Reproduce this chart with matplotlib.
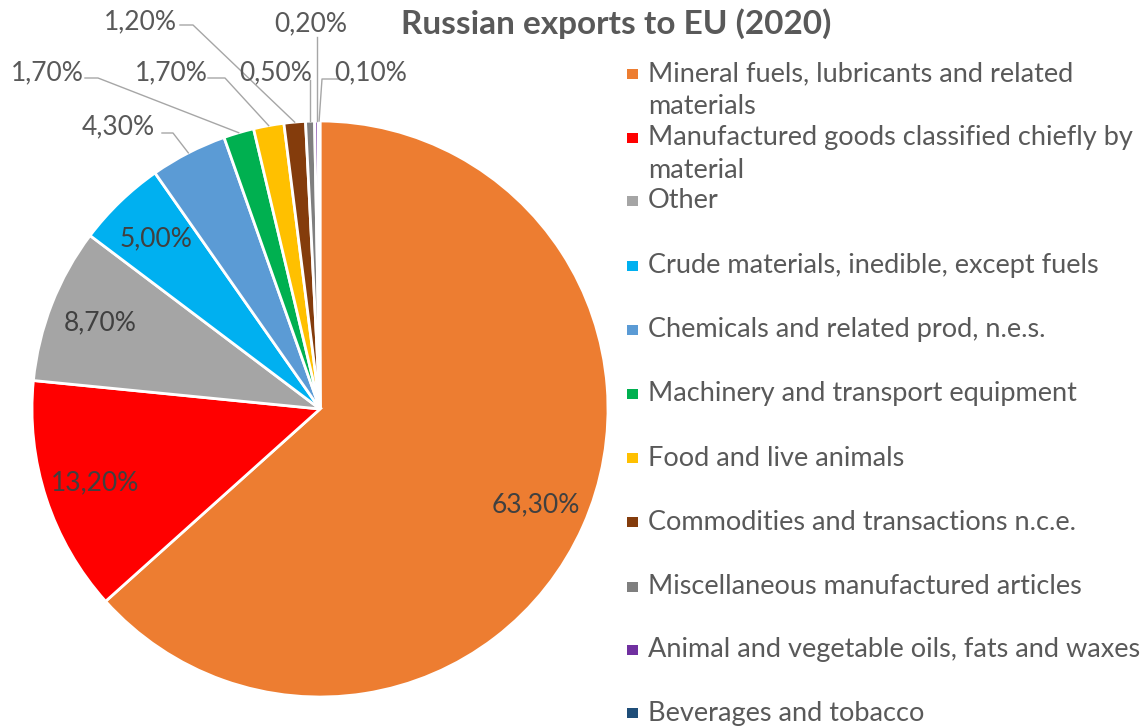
import matplotlib
matplotlib.use("Agg")
import matplotlib.pyplot as plt
from matplotlib.patches import Rectangle
import numpy as np

categories = [
    "Mineral fuels, lubricants and related\nmaterials",
    "Manufactured goods classified chiefly by\nmaterial",
    "Other",
    "Crude materials, inedible, except fuels",
    "Chemicals and related prod, n.e.s.",
    "Machinery and transport equipment",
    "Food and live animals",
    "Commodities and transactions n.c.e.",
    "Miscellaneous manufactured articles",
    "Animal and vegetable oils, fats and waxes",
    "Beverages and tobacco",
]
shares = [63.3, 13.2, 8.7, 5.0, 4.3, 1.7, 1.7, 1.2, 0.5, 0.2, 0.1]
colors = ["#ED7D31", "#FF0000", "#A5A5A5", "#00B0F0", "#5B9BD5", "#00B050",
          "#FFC000", "#843C0C", "#7F7F7F", "#7030A0", "#1F4E79"]

W, H = 1144, 727
FONT = "Lato"
TXT = "#595959"

fig = plt.figure(figsize=(W / 100, H / 100), dpi=100)
ax = fig.add_axes([0, 0, 1, 1])

cx, cy, R = 320, H - 409, 288
wedges, _ = ax.pie(shares, colors=colors, startangle=90, counterclock=False,
                   center=(cx, cy), radius=R,
                   wedgeprops=dict(edgecolor="white", linewidth=2))
ax.set_xlim(0, W)
ax.set_ylim(0, H)
ax.set_aspect("equal")
ax.axis("off")


def fmt(v):
    return f"{v:.2f}%".replace(".", ",")


def edge_point(w, r=1.0):
    a = np.deg2rad((w.theta1 + w.theta2) / 2)
    return cx + r * R * np.cos(a), cy + r * R * np.sin(a)


# labels inside the big slices
for i in range(4):
    x, y = edge_point(wedges[i], 0.82)
    ax.text(x, y, fmt(shares[i]), ha="center", va="center", fontsize=19,
            family=FONT, color="#404040")

# outside labels: text centre (x, y from top), leader start x, elbow x, leader y
outside = {
    4: (118, 127, 162, 173, 133),
    5: (47, 73, 85, 98, 78),
    6: (171, 73, 208, 225, 78),
    7: (140, 22, 180, 193, 25),
    8: (276, 73, 310, 310, 80),
    9: (311, 24, 317, 317, 37),
    10: (371, 73, 338, 322, 79),
}
for i, (tx, ty, sx, ex, ly) in outside.items():
    px, py = edge_point(wedges[i], 1.0)
    ax.text(tx, H - ty, fmt(shares[i]), ha="center", va="center", fontsize=19,
            family=FONT, color=TXT)
    if i in (8, 9):
        xs, ys = [ex, ex], [H - ly, py]
    else:
        xs, ys = [sx, ex, px], [H - ly, H - ly, py]
    ax.plot(xs, ys, color="#A6A6A6", linewidth=1)

ax.text(616, H - 24, "Russian exports to EU (2020)", ha="center", va="center",
        fontsize=24, fontweight="bold", family=FONT, color=TXT)

# legend
legend_y = [74, 138, 201, 266, 330, 394, 458, 522, 587, 650, 713]
for lab, c, ly in zip(categories, colors, legend_y):
    y = H - ly
    ax.add_patch(Rectangle((627, y - 5), 11, 10, facecolor=c, edgecolor="none"))
    for j, part in enumerate(lab.split("\n")):
        ax.text(648, y - 33 * j, part, ha="left", va="center", fontsize=19.5,
                family=FONT, color=TXT)

fig.savefig("out.png", dpi=100)
